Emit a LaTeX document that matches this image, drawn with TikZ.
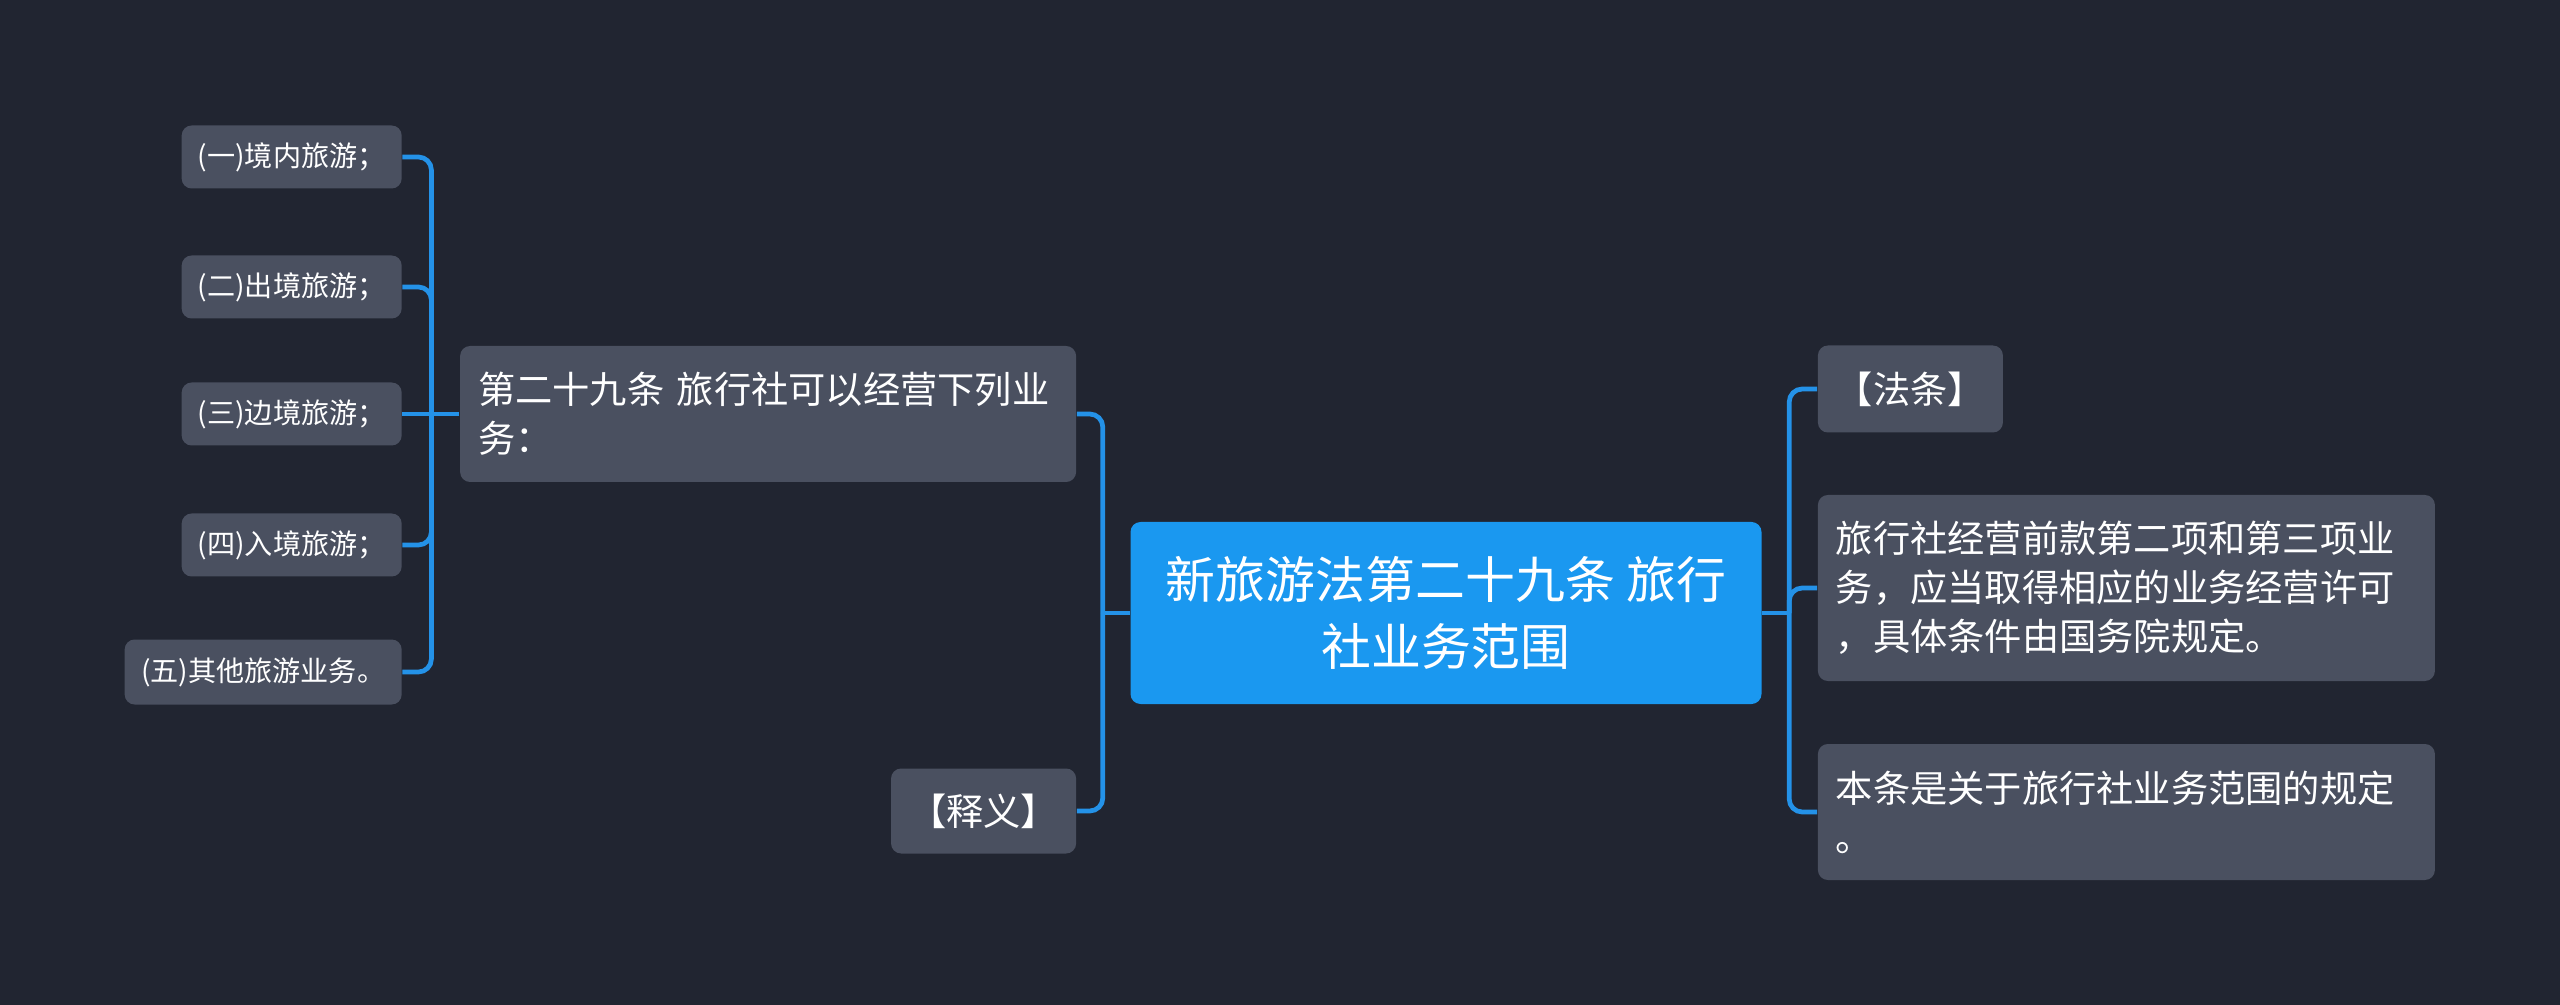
\documentclass[tikz,border=0pt]{standalone}
\usepackage{fontspec}
\setmainfont{Noto Sans CJK SC}
\usetikzlibrary{positioning}

\definecolor{bgdark}{RGB}{33,37,49}
\definecolor{boxgray}{RGB}{74,80,96}
\definecolor{topicblue}{RGB}{26,152,240}
\definecolor{linkblue}{RGB}{36,146,232}

\begin{document}
\begin{tikzpicture}[
		topic/.style={
			rectangle, rounded corners=0.1cm, fill=topicblue, text=white,
			font=\fontsize{14.2}{19}\selectfont, align=center,
			minimum width=6.31cm, minimum height=1.82cm, inner sep=0pt
		},
		branch/.style={
			rectangle, rounded corners=0.1cm, fill=boxgray, text=white,
			font=\fontsize{10.6}{13.9}\selectfont, align=left,
			inner xsep=0.18cm, inner ysep=0pt
		},
		leaf/.style={
			rectangle, rounded corners=0.1cm, fill=boxgray, text=white,
			font=\fontsize{8}{10}\selectfont, align=center,
			minimum width=2.2cm, minimum height=0.63cm, inner sep=0pt
		},
		link/.style={draw=linkblue, line width=1.35pt},
		elbow/.style={link, rounded corners=0.13cm}
		]
		
		% --- BACKGROUND ---
		\fill[bgdark] (0,0) rectangle (25.6,-10.05);
		
		% --- CENTRAL TOPIC ---
		\node[topic] (main) at (14.46,-6.13) {新旅游法第二十九条 旅行\\社业务范围};
		
		% --- LEFT SIDE ---
		\node[branch, text width=5.8cm, minimum height=1.36cm, left=0.53cm of main, yshift=1.99cm] (art) {第二十九条 旅行社可以经营下列业\\务：};
		\node[branch, align=center, minimum width=1.85cm, minimum height=0.85cm, left=0.53cm of main, yshift=-1.98cm] (shiyi) {【释义】};
		
		% items of the article
		\node[leaf, left=0.57cm of art, yshift=2.57cm] (l1) {(一)境内旅游；};
		\node[leaf, left=0.57cm of art, yshift=1.27cm] (l2) {(二)出境旅游；};
		\node[leaf, left=0.57cm of art] (l3) {(三)边境旅游；};
		\node[leaf, left=0.57cm of art, yshift=-1.31cm] (l4) {(四)入境旅游；};
		\node[leaf, minimum width=2.77cm, minimum height=0.65cm, left=0.57cm of art, yshift=-2.58cm] (l5) {(五)其他旅游业务。};
		
		% --- RIGHT SIDE ---
		\node[branch, align=center, minimum width=1.85cm, minimum height=0.87cm, right=0.55cm of main, yshift=2.24cm] (fatiao) {【法条】};
		\node[branch, text width=5.81cm, minimum height=1.86cm, right=0.55cm of main, yshift=0.25cm] (rule) {旅行社经营前款第二项和第三项业\\务，应当取得相应的业务经营许可\\，具体条件由国务院规定。};
		\node[branch, text width=5.81cm, minimum height=1.36cm, right=0.55cm of main, yshift=-1.99cm] (scope) {本条是关于旅行社业务范围的规定\\。};
		
		% --- CONNECTORS ---
		% main to left branches
		\draw[link] (main.west) -- ++(-0.27,0) coordinate (mj);
		\draw[elbow] (mj) |- (art.east);
		\draw[elbow] (mj) |- (shiyi.east);
		
		% main to right branches
		\draw[link] (main.east) -- ++(0.27,0) coordinate (rj);
		\draw[elbow] (rj) |- (fatiao.west);
		\draw[elbow] (rj) |- (rule.west);
		\draw[elbow] (rj) |- (scope.west);
		
		% article to its items
		\draw[link] (art.west) -- ++(-0.28,0) coordinate (aj);
		\draw[elbow] (aj) |- (l1.east);
		\draw[elbow] (aj) |- (l2.east);
		\draw[link] (aj) -- (l3.east);
		\draw[elbow] (aj) |- (l4.east);
		\draw[elbow] (aj) |- (l5.east);
		
	\end{tikzpicture}
\end{document}
